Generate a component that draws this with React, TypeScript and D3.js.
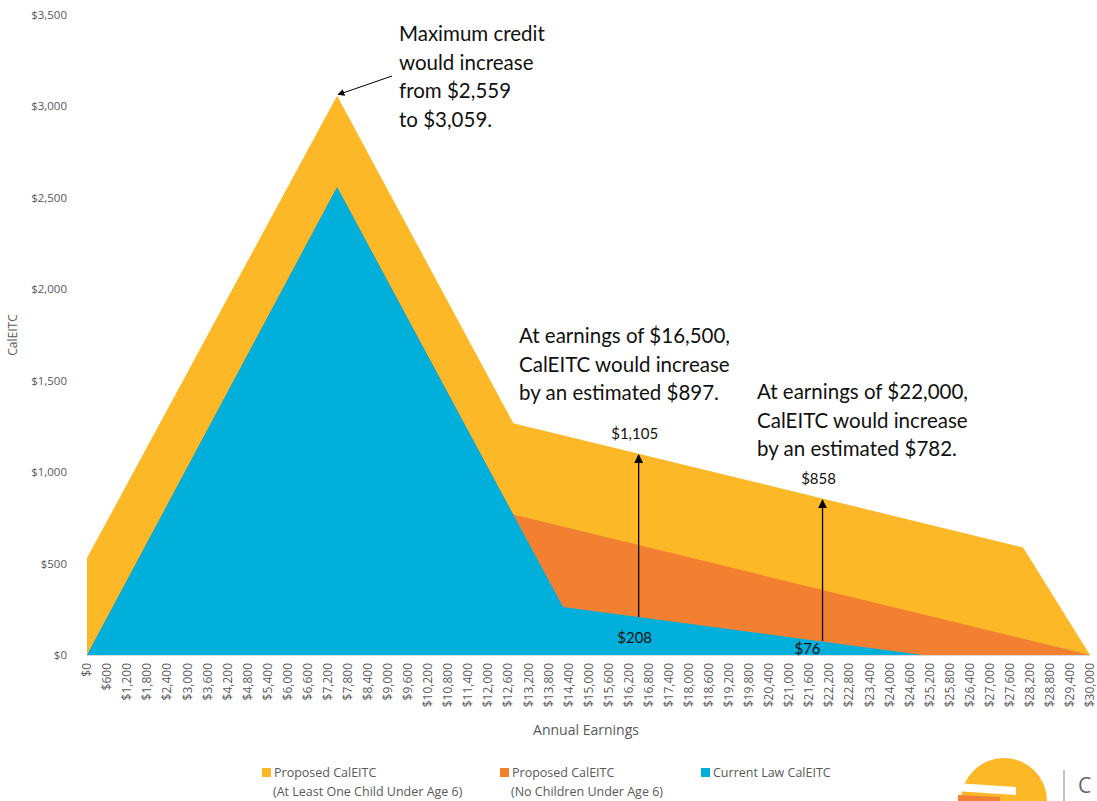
import * as d3 from 'd3';
import { useEffect, useRef } from 'react';

// tick labels
const yTicks = [0, 500, 1000, 1500, 2000, 2500, 3000, 3500];
const xTicks = d3.range(0, 30001, 600);

// series (earnings breakpoints -> credit)
const proposedChildEarnings = [0, 7480, 12750, 28000, 30000];
const proposedChildValues = [530, 3059, 1268, 588, 0];

const proposedNoChildEarnings = [0, 7480, 12750, 30000];
const proposedNoChildValues = [0, 2559, 768, 0];

const currentEarnings = [0, 7480, 14240, 25000, 30000];
const currentValues = [0, 2559, 262, 0, 0];

// callouts
const calloutEarnings = [16500, 22000];
const calloutProposed = [1105, 858];
const calloutCurrent = [208, 76];

const YELLOW = '#FDB827';
const ORANGE = '#F37F31';
const BLUE = '#00AFDA';
const GREY = '#595959';

const fmt = (v: number) => '$' + d3.format(',')(v);

function App() {
    return <CalEitcChart />;
}

const CalEitcChart = () => {
    const svgRef = useRef<SVGSVGElement>(null);

    useEffect(() => {
        const w = 1097;
        const h = 801;
        const left = 87;
        const right = 1090;
        const top = 15;
        const bottom = 655;

        const svg = d3.select(svgRef.current);
        svg.selectAll('*').remove();
        svg.attr('width', w).attr('height', h);

        const x = d3.scaleLinear().domain([0, 30000]).range([left, right]);
        const y = d3.scaleLinear().domain([0, 3500]).range([bottom, top]);

        const area = d3
            .area<[number, number]>()
            .x((d) => x(d[0]))
            .y0(y(0))
            .y1((d) => y(d[1]));

        const series = [
            { xs: proposedChildEarnings, ys: proposedChildValues, color: YELLOW },
            { xs: proposedNoChildEarnings, ys: proposedNoChildValues, color: ORANGE },
            { xs: currentEarnings, ys: currentValues, color: BLUE },
        ];
        series.forEach((s) => {
            const pts = s.xs.map((e, i) => [e, s.ys[i]] as [number, number]);
            svg.append('path').attr('d', area(pts)).attr('fill', s.color);
        });

        // baseline
        svg.append('line')
            .attr('x1', left)
            .attr('x2', right)
            .attr('y1', y(0) + 0.5)
            .attr('y2', y(0) + 0.5)
            .attr('stroke', '#d9d9d9');

        // y ticks
        svg.append('g')
            .selectAll('text')
            .data(yTicks)
            .enter()
            .append('text')
            .attr('x', 67)
            .attr('y', (d) => y(d))
            .attr('dy', '0.35em')
            .attr('text-anchor', 'end')
            .attr('font-family', 'Open Sans, sans-serif')
            .attr('font-size', 11.5)
            .attr('fill', GREY)
            .text((d) => fmt(d));

        // x ticks
        svg.append('g')
            .selectAll('text')
            .data(xTicks)
            .enter()
            .append('text')
            .attr('transform', (d) => `translate(${x(d)},663) rotate(-90)`)
            .attr('dy', '0.35em')
            .attr('text-anchor', 'end')
            .attr('font-family', 'Open Sans, sans-serif')
            .attr('font-size', 12)
            .attr('fill', GREY)
            .text((d) => fmt(d));

        svg.append('text')
            .attr('x', 586)
            .attr('y', 735)
            .attr('text-anchor', 'middle')
            .attr('font-family', 'Open Sans, sans-serif')
            .attr('font-size', 14)
            .attr('fill', GREY)
            .text('Annual Earnings');

        svg.append('text')
            .attr('transform', `translate(17,${(top + bottom) / 2}) rotate(-90)`)
            .attr('text-anchor', 'middle')
            .attr('font-family', 'Open Sans, sans-serif')
            .attr('font-size', 12)
            .attr('fill', GREY)
            .text('CalEITC');

        // arrowhead
        svg.append('defs')
            .append('marker')
            .attr('id', 'arrow')
            .attr('viewBox', '0 0 10 10')
            .attr('refX', 9)
            .attr('refY', 5)
            .attr('markerWidth', 7)
            .attr('markerHeight', 7)
            .attr('orient', 'auto')
            .append('path')
            .attr('d', 'M0,0 L10,5 L0,10 z')
            .attr('fill', '#000');

        // peak annotation
        svg.append('line')
            .attr('x1', 392)
            .attr('y1', 76)
            .attr('x2', x(7480) + 1)
            .attr('y2', y(3059) - 1)
            .attr('stroke', '#000')
            .attr('stroke-width', 1)
            .attr('marker-end', 'url(#arrow)');

        const block = (lines: string[], x0: number, y0: number) => {
            const t = svg
                .append('text')
                .attr('font-family', 'Lato, sans-serif')
                .attr('font-size', 20.5)
                .attr('fill', '#111');
            lines.forEach((l, i) => {
                t.append('tspan').attr('x', x0).attr('y', y0 + i * 28.5).text(l);
            });
        };
        block(['Maximum credit', 'would increase', 'from $2,559', 'to $3,059.'], 399, 41);
        block(
            ['At earnings of $16,500,', 'CalEITC would increase', 'by an estimated $897.'],
            519,
            343
        );
        block(
            ['At earnings of $22,000,', 'CalEITC would increase', 'by an estimated $782.'],
            757,
            399
        );

        // callout arrows + values
        calloutEarnings.forEach((e, i) => {
            svg.append('line')
                .attr('x1', x(e))
                .attr('x2', x(e))
                .attr('y1', y(calloutCurrent[i]))
                .attr('y2', y(calloutProposed[i]) + 2)
                .attr('stroke', '#000')
                .attr('stroke-width', 1.3)
                .attr('marker-end', 'url(#arrow)');
            svg.append('text')
                .attr('x', x(e) - 4)
                .attr('y', y(calloutProposed[i]) - 14)
                .attr('text-anchor', 'middle')
                .attr('font-family', 'Lato, sans-serif')
                .attr('font-size', 15)
                .attr('fill', '#111')
                .text(fmt(calloutProposed[i]));
            svg.append('text')
                .attr('x', x(e) - 4 - i * 11)
                .attr('y', y(calloutCurrent[i]) + 26 - i * 13)
                .attr('text-anchor', 'middle')
                .attr('font-family', 'Lato, sans-serif')
                .attr('font-size', 15)
                .attr('fill', '#111')
                .text(fmt(calloutCurrent[i]));
        });

        // legend
        const legend = [
            { color: YELLOW, l1: 'Proposed CalEITC', l2: '(At Least One Child Under Age 6)', x: 262 },
            { color: ORANGE, l1: 'Proposed CalEITC', l2: '(No Children Under Age 6)', x: 500 },
            { color: BLUE, l1: 'Current Law CalEITC', l2: '', x: 701 },
        ];
        const lg = svg.append('g');
        legend.forEach((d) => {
            lg.append('rect')
                .attr('x', d.x)
                .attr('y', 768)
                .attr('width', 9)
                .attr('height', 9)
                .attr('fill', d.color);
            lg.append('text')
                .attr('x', d.x + 12)
                .attr('y', 777)
                .attr('font-family', 'Open Sans, sans-serif')
                .attr('font-size', 12.5)
                .attr('fill', GREY)
                .text(d.l1);
            if (d.l2) {
                lg.append('text')
                    .attr('x', d.x + 11)
                    .attr('y', 796)
                    .attr('font-family', 'Open Sans, sans-serif')
                    .attr('font-size', 12.5)
                    .attr('fill', GREY)
                    .text(d.l2);
            }
        });

        // partial logo in corner
        const logo = svg.append('g');
        logo.append('circle').attr('cx', 1004).attr('cy', 801).attr('r', 43).attr('fill', YELLOW);
        logo.append('path')
            .attr('d', 'M955,783 L1016,787 L1016,795 L955,791 Z')
            .attr('fill', '#fff');
        logo.append('path')
            .attr('d', 'M958,795 L1000,797 L1000,801 L958,801 Z')
            .attr('fill', ORANGE);
        logo.append('line')
            .attr('x1', 1064)
            .attr('x2', 1064)
            .attr('y1', 770)
            .attr('y2', 801)
            .attr('stroke', '#888');
        logo.append('text')
            .attr('x', 1078)
            .attr('y', 793)
            .attr('font-family', 'Open Sans, sans-serif')
            .attr('font-size', 21)
            .attr('fill', '#666')
            .text('C');
    }, []);

    return (
        <svg
            ref={svgRef}
            style={{ position: 'absolute', left: 0, top: 0, background: '#fff' }}
        ></svg>
    );
};

export default App;
